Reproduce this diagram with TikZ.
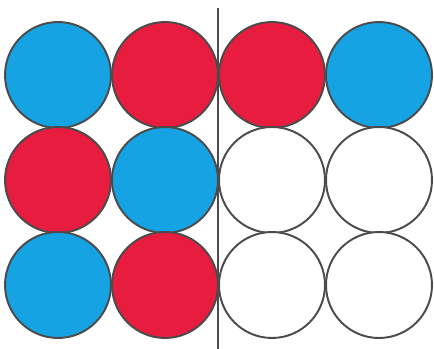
\documentclass[tikz,border=0pt]{standalone}
\usepackage{tikz}
\usetikzlibrary{positioning}
\usepackage{xcolor}
\definecolor{ballblue}{RGB}{22,163,228}
\definecolor{ballred}{RGB}{232,28,62}
\definecolor{rim}{RGB}{75,75,75}

\begin{document}
\begin{tikzpicture}[x=0.02cm,y=-0.02cm,
    ball/.style={circle,draw=rim,line width=1.1pt,minimum size=2.12cm,inner sep=0pt}]
                    \useasboundingbox (0,0) rectangle (434,349);
                    % three rows of four balls
                    \foreach \c [count=\i] in {ballblue,ballred,ballred,ballblue}{
                        \node[ball,fill=\c] (a\i) at ({58+107*(\i-1)},75) {};
                    }
                    \foreach \c [count=\i] in {ballred,ballblue,white,white}{
                        \node[ball,fill=\c] (b\i) at ({58+107*(\i-1)},180) {};
                    }
                    \foreach \c [count=\i] in {ballblue,ballred,white,white}{
                        \node[ball,fill=\c] (c\i) at ({58+107*(\i-1)},285) {};
                    }
                    % dividing line
                    \coordinate (top) at (218,8);
                    \coordinate (bot) at (218,349);
                    \draw[rim,line width=1.6pt] (top) -- (bot);
                \end{tikzpicture}
\end{document}
